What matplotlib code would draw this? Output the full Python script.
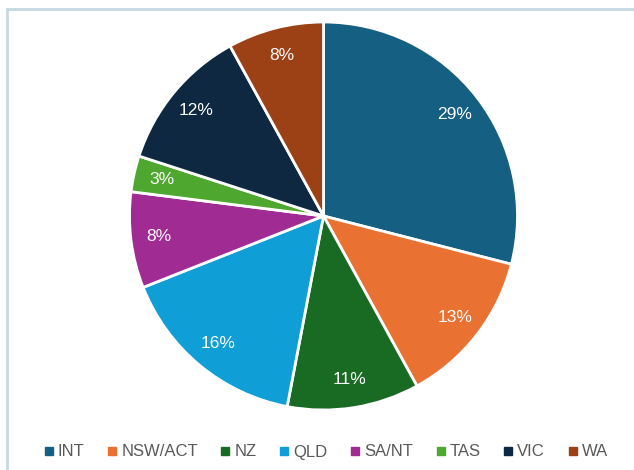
import matplotlib.pyplot as plt
from matplotlib.patches import Rectangle
from matplotlib.lines import Line2D

categories = ["INT", "NSW/ACT", "NZ", "QLD", "SA/NT", "TAS", "VIC", "WA"]
values = [29, 13, 11, 16, 8, 3, 12, 8]
colors = ["#156082", "#E97132", "#196B24", "#0F9ED5", "#A02B93", "#4EA72E", "#0E2841", "#9C4115"]

plt.rcParams['font.family'] = ['Liberation Sans', 'DejaVu Sans']

W, H = 634, 470
fig = plt.figure(figsize=(W/100, H/100), dpi=100)
fig.patches.append(Rectangle((6.5/W, -0.1), 1.2, 1 - 8.5/H + 0.1, transform=fig.transFigure,
                             fill=False, edgecolor="#C5D9E0", linewidth=2, zorder=0))

cx, cy, r = 323.5, 216, 194
ax = fig.add_axes([(cx - r)/W, (H - cy - r)/H, 2*r/W, 2*r/H])
wedges, texts, autotexts = ax.pie(values, colors=colors, startangle=90, counterclock=False,
                                  autopct=lambda p: f"{p:.0f}%", pctdistance=0.855,
                                  wedgeprops=dict(edgecolor="white", linewidth=2),
                                  textprops=dict(color="white", fontsize=12.5))
ax.set_aspect('equal')
ax.set_xlim(-1, 1)
ax.set_ylim(-1, 1)

handles = [Line2D([0], [0], marker='s', linestyle='', markersize=5.5, markerfacecolor=c,
                  markeredgecolor=c) for c in colors]
fig.legend(handles, categories, loc='center', bbox_to_anchor=(325/W, 1 - 452/H), ncol=8,
           frameon=False, fontsize=12, labelcolor="#595959", handletextpad=0.15,
           columnspacing=1.25, handlelength=0.8)

fig.savefig("out.png", dpi=100)
